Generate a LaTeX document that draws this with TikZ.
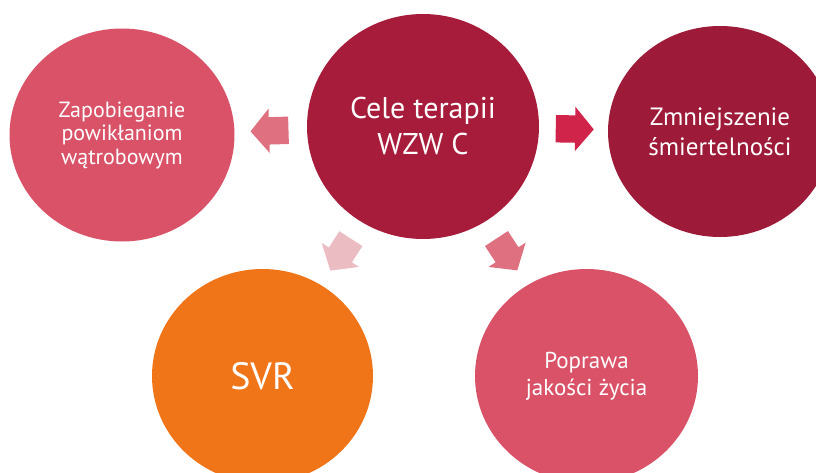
\documentclass[tikz,border=0pt]{standalone}
\usepackage{fontspec}
\setmainfont{PT Sans}
\usetikzlibrary{shapes.geometric, shapes.arrows, positioning}

\definecolor{rosered}{HTML}{D95268}
\definecolor{winered}{HTML}{A81C3B}
\definecolor{darkwine}{HTML}{9D1A38}
\definecolor{svrorange}{HTML}{F07418}
\definecolor{arrowrose}{HTML}{DE7080}
\definecolor{arrowcrimson}{HTML}{D0244A}
\definecolor{arrowpale}{HTML}{EBBCC2}

\begin{document}
\begin{tikzpicture}[x=1pt, y=-1pt,
    % --- STYLES ---
    goal/.style={ellipse, inner sep=0pt, align=center, text=white},
    blockarrow/.style={single arrow, draw=none, inner xsep=0pt, inner ysep=13.5pt, minimum height=38pt,
        single arrow head extend=8.5pt, single arrow tip angle=100, sloped, allow upside down, xshift=-4.5pt}
]
    \useasboundingbox (0,0) rectangle (816,473);

    % --- NODES ---
    \node[goal, fill=winered, minimum width=232pt, minimum height=225pt,
        font=\fontsize{30}{36}\selectfont] (cele) at (423,126.5) {Cele terapii\\WZW C};
    \node[goal, fill=rosered, minimum width=225pt, minimum height=213pt,
        font=\fontsize{22}{23.5}\selectfont] (prevent) at (122,135) {Zapobieganie\\powikłaniom\\wątrobowym};
    \node[goal, fill=darkwine, minimum width=224pt, minimum height=211pt,
        font=\fontsize{25}{30}\selectfont] (mortality) at (720,131.5) {Zmniejszenie\\śmiertelności};
    \node[goal, fill=svrorange, minimum width=221pt, minimum height=214pt,
        font=\fontsize{38}{44}\selectfont] (svr) at (262.5,376) {SVR};
    \node[goal, fill=rosered, minimum width=223pt, minimum height=214pt,
        font=\fontsize{23}{27}\selectfont] (quality) at (586.5,376) {Poprawa\\jakości życia};

    % --- ARROWS ---
    \path (cele) -- node[blockarrow, fill=arrowrose] (toprevent) {} (prevent);
    \path (cele) -- node[blockarrow, fill=arrowcrimson] (tomortality) {} (mortality);
    \path (cele) -- node[blockarrow, fill=arrowpale] (tosvr) {} (svr);
    \path (cele) -- node[blockarrow, fill=arrowrose] (toquality) {} (quality);

\end{tikzpicture}
\end{document}
